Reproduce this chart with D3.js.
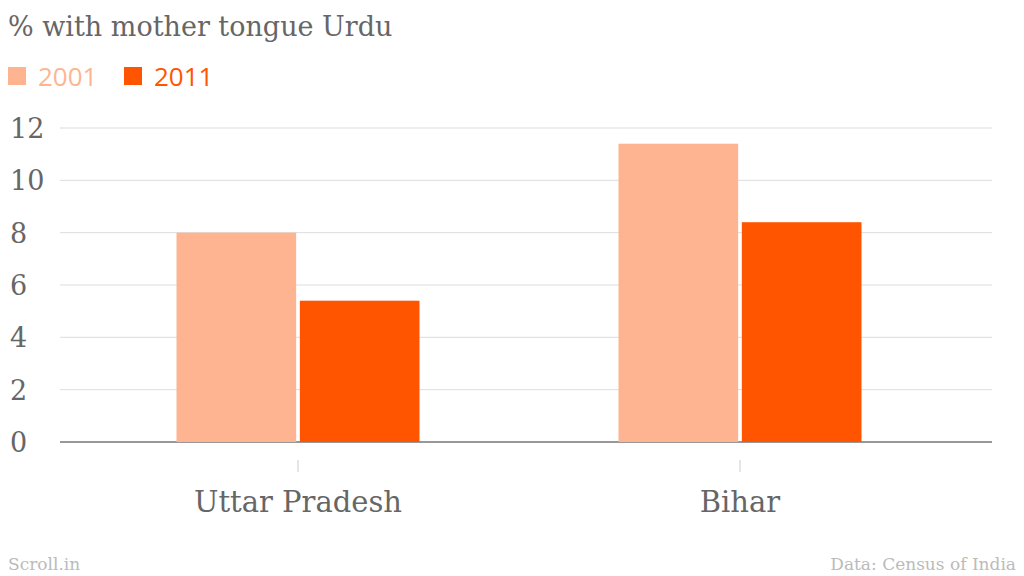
<!DOCTYPE html>
<html><head><meta charset="utf-8">
<script src="https://cdn.jsdelivr.net/npm/d3@7"></script>
<style>body{margin:0;background:#fff}</style>
</head><body><svg id="c" width="1024" height="576"></svg>
<script>
// values
const states = ['Uttar Pradesh', 'Bihar']
const years = ['2001', '2011']
const pct2001 = [8.0, 11.4]
const pct2011 = [5.4, 8.4]
const yTicks = [0, 2, 4, 6, 8, 10, 12]
const colors = ['#ffb491', '#ff5500']

const svg = d3.select('#c')
const serif = 'DejaVu Serif, Liberation Serif, serif'
const grey = '#666'

const x = d3.scaleBand().domain(states).range([77, 961])
const x1 = d3.scaleBand().domain(years).range([0, 243]).paddingInner(0.03)
const y = d3.scaleLinear().domain([0, 12]).range([442, 128])

svg.append('text').attr('x', 8).attr('y', 36).attr('font-family', serif)
  .attr('font-size', 27).attr('fill', grey).text('% with mother tongue Urdu')

// legend
years.forEach((yr, i) => {
  const lx = [8, 124][i]
  svg.append('rect').attr('x', lx).attr('y', 67).attr('width', 18).attr('height', 18).attr('fill', colors[i])
  svg.append('text').attr('x', lx + 30).attr('y', 86).attr('font-family', 'Open Sans, sans-serif')
    .attr('font-size', 26).attr('fill', colors[i]).text(yr)
})

// grid + y labels
const g = svg.append('g')
yTicks.forEach(t => {
  g.append('line').attr('x1', 60).attr('x2', 992).attr('y1', y(t)).attr('y2', y(t))
    .attr('stroke', t === 0 ? '#333' : '#ddd').attr('stroke-width', t === 0 ? 1.2 : 1)
  g.append('text').attr('x', 10).attr('y', y(t) + 10).attr('font-family', serif)
    .attr('font-size', 27).attr('fill', grey).text(t)
})

const data = states.map((s, i) => ({ s, v: [pct2001[i], pct2011[i]] }))
data.forEach(d => {
  const cx = x(d.s) + x.bandwidth() / 2
  d.v.forEach((v, j) => {
    svg.append('rect').attr('x', cx - 121.5 + x1(years[j])).attr('width', x1.bandwidth())
      .attr('y', y(v)).attr('height', y(0) - y(v)).attr('fill', colors[j])
  })
  svg.append('line').attr('x1', cx).attr('x2', cx).attr('y1', 460).attr('y2', 472).attr('stroke', '#ccc')
  svg.append('text').attr('x', cx).attr('y', 512).attr('text-anchor', 'middle').attr('font-family', serif)
    .attr('font-size', 29).attr('fill', grey).text(d.s)
})

svg.append('text').attr('x', 8).attr('y', 570).attr('font-family', serif).attr('font-size', 17)
  .attr('fill', '#bbb').text('Scroll.in')
svg.append('text').attr('x', 1016).attr('y', 570).attr('text-anchor', 'end').attr('font-family', serif)
  .attr('font-size', 17).attr('fill', '#bbb').text('Data: Census of India')
</script></body></html>
